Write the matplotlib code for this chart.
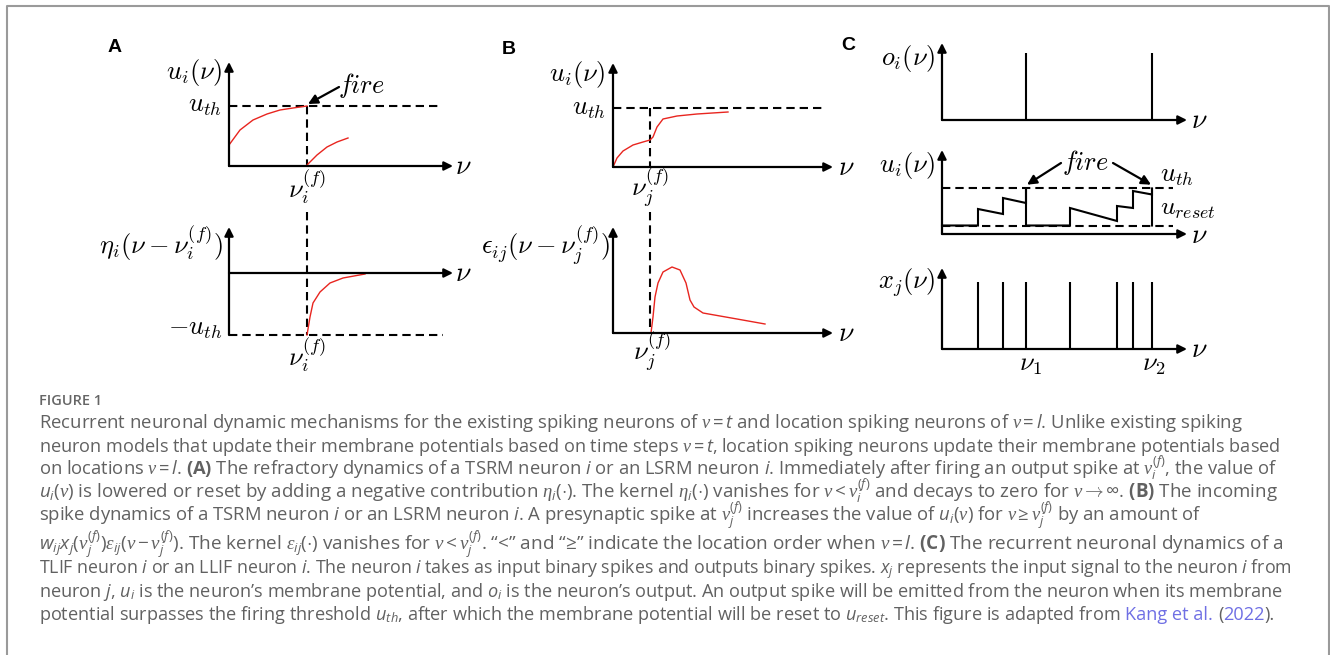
import numpy as np
import matplotlib.pyplot as plt

W, H = 1330, 655

plt.rcParams['mathtext.fontset'] = 'custom'
plt.rcParams['mathtext.rm'] = 'Open Sans'
plt.rcParams['mathtext.sf'] = 'Open Sans:italic'
plt.rcParams['mathtext.bf'] = 'Open Sans:bold'
plt.rcParams['mathtext.it'] = 'Liberation Serif:italic'

# ---------------- panel A (refractory) ----------------
a_u_th = 60
a_fire_x = 78
a_rise_x = [0, 11, 24, 38, 51, 64, 78]
a_rise_u = [21, 36, 46, 52, 56, 58, 60]
a_after_x = [78, 88, 98, 108, 119]
a_after_u = [1, 11, 19, 24, 28]
a_eta_x = [78, 81, 84, 91, 101, 114, 136]
a_eta = [-62, -44, -30, -19, -10, -5, -1]

# ---------------- panel B (incoming spike) ----------------
b_u_th = 59
b_spike_x = 37
b_u_x = [0, 4, 10, 20, 30, 37, 40, 44, 50, 64, 84, 115]
b_u = [0, 9, 16, 22, 25, 27, 30, 40, 48, 51, 53, 55]
b_eps_x = [38, 40, 42, 45, 50, 59, 67, 73, 77, 81, 90, 124, 152]
b_eps = [0, 16, 36, 50, 61, 66, 63, 50, 33, 26, 20, 14, 9]

# ---------------- panel C (LIF) ----------------
c_in_spikes = [36, 61, 84, 128, 175, 191, 210]
c_out_spikes = [84, 210]
c_u_before = [8.5, 20, 31, 8.5, 13, 26, 39.5]
c_u_after = [25, 36, 46.3, 26, 28, 43, 46.3]
c_u_th = 46.3
c_u_reset = 8.5
c_spike_h = 67

caption_lines = [
    r"Recurrent neuronal dynamic mechanisms for the existing spiking neurons of $\nu = \mathsf{t}$ and location spiking neurons of $\nu = \mathsf{l}$. Unlike existing spiking",
    r"neuron models that update their membrane potentials based on time steps $\nu = \mathsf{t}$, location spiking neurons update their membrane potentials based",
    r"on locations $\nu = \mathsf{l}$. $\mathbf{(A)}$ The refractory dynamics of a TSRM neuron $\mathsf{i}$ or an LSRM neuron $\mathsf{i}$. Immediately after firing an output spike at $\nu_\mathsf{i}^{(\mathsf{f})}$, the value of",
    r"$\mathsf{u}_\mathsf{i}(\nu)$ is lowered or reset by adding a negative contribution $\eta_\mathsf{i}(\cdot)$. The kernel $\eta_\mathsf{i}(\cdot)$ vanishes for $\nu < \nu_\mathsf{i}^{(\mathsf{f})}$ and decays to zero for $\nu \rightarrow \infty$. $\mathbf{(B)}$ The incoming",
    r"spike dynamics of a TSRM neuron $\mathsf{i}$ or an LSRM neuron $\mathsf{i}$. A presynaptic spike at $\nu_\mathsf{j}^{(\mathsf{f})}$ increases the value of $\mathsf{u}_\mathsf{i}(\nu)$ for $\nu \geq \nu_\mathsf{j}^{(\mathsf{f})}$ by an amount of",
    r"$\mathsf{w}_\mathsf{ij}\mathsf{x}_\mathsf{j}(\nu_\mathsf{j}^{(\mathsf{f})})\epsilon_\mathsf{ij}(\nu - \nu_\mathsf{j}^{(\mathsf{f})})$. The kernel $\epsilon_\mathsf{ij}(\cdot)$ vanishes for $\nu < \nu_\mathsf{j}^{(\mathsf{f})}$. “<” and “≥” indicate the location order when $\nu = \mathsf{l}$. $\mathbf{(C)}$ The recurrent neuronal dynamics of a",
    r"TLIF neuron $\mathsf{i}$ or an LLIF neuron $\mathsf{i}$. The neuron $\mathsf{i}$ takes as input binary spikes and outputs binary spikes. $\mathsf{x}_\mathsf{j}$ represents the input signal to the neuron $\mathsf{i}$ from",
    r"neuron $\mathsf{j}$, $\mathsf{u}_\mathsf{i}$ is the neuron’s membrane potential, and $\mathsf{o}_\mathsf{i}$ is the neuron’s output. An output spike will be emitted from the neuron when its membrane",
]
caption_last = r"potential surpasses the firing threshold $\mathsf{u}_{\mathsf{th}}$, after which the membrane potential will be reset to $\mathsf{u}_{\mathsf{reset}}$. This figure is adapted from"
caption_baselines = [428.3, 451.7, 475, 498.3, 521.7, 550.7, 573.3, 596.7, 620]
caption_line_ends = [1241, 1285, 1275, 1279, 1199, 1285, 1294, 1283, 1277]

fig = plt.figure(figsize=(W / 100, H / 100), dpi=100)
bg = fig.add_axes([0, 0, 1, 1])
bg.set_xlim(0, W)
bg.set_ylim(H, 0)
bg.axis('off')

# frame
bg.plot([7, 7, 1329, 1329], [H + 5, 6, 6, H + 5], color='#9a9a9a', lw=1.5, clip_on=False)


def sub_axes(ox, oy, right, top, bottom=None):
    bottom = oy if bottom is None else bottom
    ax = fig.add_axes([ox / W, 1 - bottom / H, (right - ox) / W, (bottom - top) / H])
    ax.set_xlim(0, right - ox)
    ax.set_ylim(oy - bottom, oy - top)
    ax.axis('off')
    return ax


def arrow(ax, x0, y0, x1, y1, ms=13, lw=1.6):
    ax.annotate('', xy=(x1, y1), xytext=(x0, y0), annotation_clip=False,
                arrowprops=dict(arrowstyle='-|>', lw=lw, color='k', mutation_scale=ms,
                                shrinkA=0, shrinkB=0))


def axes_arrows(ax):
    x0, x1 = ax.get_xlim()
    y0, y1 = ax.get_ylim()
    arrow(ax, 0, 0, x1, 0)
    arrow(ax, 0, y0, 0, y1)


LFS = 19


def lab(ax, x, y, s, ha='center', va='center', fs=LFS):
    ax.text(x, y, s, ha=ha, va=va, fontsize=fs, math_fontfamily='cm', clip_on=False)


dash = dict(color='k', lw=1.5, ls=(0, (4, 2.4)), clip_on=False)
red = dict(color='#e8251f', lw=1.0, clip_on=False)

# ---- A top
ax = sub_axes(229, 166, 453, 62)
axes_arrows(ax)
ax.plot([0, 211], [a_u_th, a_u_th], **dash)
ax.plot([a_fire_x, a_fire_x], [a_u_th, 0], **dash)
ax.plot(a_rise_x, a_rise_u, **red)
ax.plot(a_after_x, a_after_u, **red)
lab(ax, -7, 93.5, r'$u_i(\nu)$', ha='right')
lab(ax, -7, 61, r'$u_{th}$', ha='right')
lab(ax, 133, 81, r'$fire$')
ax.annotate('', xy=(a_fire_x + 1, a_u_th + 2), xytext=(110, 79), annotation_clip=False,
            arrowprops=dict(arrowstyle='-|>', lw=1.6, color='k', mutation_scale=14, shrinkA=0, shrinkB=0))
lab(ax, 226, 0, r'$\nu$', ha='left', fs=LFS + 1)
lab(ax, a_fire_x, -21, r'$\nu_i^{(f)}$')

# ---- A bottom
ax = sub_axes(229, 273, 453, 227, 335)
axes_arrows(ax)
ax.plot([0, 214], [min(a_eta), min(a_eta)], **dash)
ax.plot([a_fire_x, a_fire_x], [61, min(a_eta)], **dash)
ax.plot(a_eta_x, a_eta, **red)
lab(ax, -6, 30, r'$\eta_i(\nu-\nu_i^{(f)})$', ha='right')
lab(ax, -7, -55, r'$-u_{th}$', ha='right')
lab(ax, 226, 0, r'$\nu$', ha='left', fs=LFS + 1)
lab(ax, a_fire_x, -82, r'$\nu_i^{(f)}$')

# ---- B top
ax = sub_axes(613, 167, 833, 63)
axes_arrows(ax)
ax.plot([0, 209], [b_u_th, b_u_th], **dash)
ax.plot([b_spike_x, b_spike_x], [b_u_th, 0], **dash)
ax.plot(b_u_x, b_u, **red)
lab(ax, -8, 92, r'$u_i(\nu)$', ha='right')
lab(ax, -7, 59, r'$u_{th}$', ha='right')
lab(ax, 225, 0, r'$\nu$', ha='left', fs=LFS + 1)
lab(ax, b_spike_x, -20, r'$\nu_j^{(f)}$')

# ---- B bottom
ax = sub_axes(613, 333, 833, 227)
axes_arrows(ax)
ax.plot([b_spike_x, b_spike_x], [121, 0], **dash)
ax.plot(b_eps_x, b_eps, **red)
lab(ax, -3, 88, r'$\epsilon_{ij}(\nu-\nu_j^{(f)})$', ha='right')
lab(ax, 225, 0, r'$\nu$', ha='left', fs=LFS + 1)
lab(ax, b_spike_x + 2, -18, r'$\nu_j^{(f)}$')

# ---- C top: output spikes
ax = sub_axes(942, 120, 1187, 43)
axes_arrows(ax)
ax.vlines(c_out_spikes, 0, c_spike_h, color='k', lw=1.5)
lab(ax, -7, 62, r'$o_i(\nu)$', ha='right')
lab(ax, 249, 0, r'$\nu$', ha='left', fs=LFS + 1)

# ---- C middle: membrane potential
ax = sub_axes(942, 234, 1187, 150)
axes_arrows(ax)
ax.plot([0, 231], [c_u_th, c_u_th], **dash)
ax.plot([0, 231], [c_u_reset, c_u_reset], **dash)
tx, tu = [0], [c_u_reset]
for x, ub, ua in zip(c_in_spikes, c_u_before, c_u_after):
    tx += [x, x]
    tu += [ub, ua]
    if ua >= c_u_th:
        tx.append(x)
        tu.append(c_u_reset)
ax.plot(tx, tu, color='k', lw=1.5, solid_joinstyle='miter', clip_on=False)
lab(ax, -7, 68, r'$u_i(\nu)$', ha='right')
lab(ax, 144, 71.5, r'$fire$')
for sx, fx in zip(c_out_spikes, [119, 171]):
    ax.annotate('', xy=(sx + (1 if sx < 150 else -1), c_u_th + 3), xytext=(fx, 71),
                annotation_clip=False,
                arrowprops=dict(arrowstyle='-|>', lw=1.6, color='k', mutation_scale=14,
                                shrinkA=0, shrinkB=0))
lab(ax, 218, 59, r'$u_{th}$', ha='left')
lab(ax, 218, 26, r'$u_{reset}$', ha='left', fs=LFS - 0.5)
lab(ax, 249, -1, r'$\nu$', ha='left', fs=LFS + 1)

# ---- C bottom: input spikes
ax = sub_axes(942, 349, 1187, 268)
axes_arrows(ax)
ax.vlines(c_in_spikes, 0, c_spike_h, color='k', lw=1.5)
lab(ax, -7, 66, r'$x_j(\nu)$', ha='right')
lab(ax, c_out_spikes[0] + 4, -15, r'$\nu_1$')
lab(ax, c_out_spikes[1] + 2, -15, r'$\nu_2$')
lab(ax, 249, 0, r'$\nu$', ha='left', fs=LFS + 1)

# panel letters
for letter, (lx, ly) in zip('ABC', [(115, 48), (509, 49), (848, 46)]):
    bg.text(lx, ly, letter, family='Liberation Sans', fontweight='bold', fontsize=14,
            ha='center', va='center')

# ---------------- caption ----------------
gray = '#616161'
blue = '#6f6fe4'
cap_x = 39
cap_kw = dict(family='Open Sans', math_fontfamily='custom', ha='left', va='baseline')
r = fig.canvas.get_renderer()


def width_at(s, size, **kw):
    t = bg.text(cap_x, 0, s, fontsize=size, **kw)
    w = t.get_window_extent(r).width
    t.remove()
    return w


# size of each caption line so it ends where it does in the figure
probe = caption_lines + [caption_last + ' Kang et al. (2022).']
fit = np.array([10 * (end - cap_x) / width_at(s, 10, **cap_kw)
                for s, end in zip(probe, caption_line_ends)])
mid = float(np.median(fit))
sizes = np.clip(fit, mid * 0.965, mid * 1.035)

fig_fs = 10 * 63 / width_at('FIGURE 1', 10, family='Open Sans', fontweight='semibold')
bg.text(cap_x, 405, 'FIGURE 1', color='#666666', fontsize=fig_fs, family='Open Sans',
        fontweight='semibold', ha='left', va='baseline')

for line, yb, fs in zip(caption_lines, caption_baselines[:8], sizes[:8]):
    bg.text(cap_x, yb, line, color=gray, fontsize=fs, **cap_kw)

fs = sizes[8]
space = width_at('a a', fs, **cap_kw) - width_at('aa', fs, **cap_kw)
x = cap_x
for s, col, gap in [(caption_last, gray, 0), ('Kang et al.', blue, space), ('(', gray, space),
                    ('2022', blue, 0), (').', gray, 0)]:
    x += gap
    t = bg.text(x, caption_baselines[8], s, color=col, fontsize=fs, **cap_kw)
    x = t.get_window_extent(r).x1

fig.savefig('out.png', dpi=100)
